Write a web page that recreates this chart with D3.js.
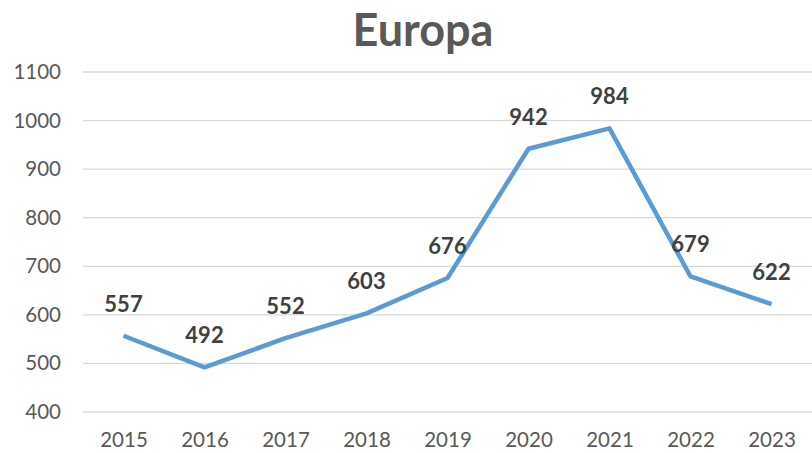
<!DOCTYPE html>
<html>
<head>
<meta charset="utf-8">
<script src="https://cdn.jsdelivr.net/npm/d3@7"></script>
<style>
  body { margin: 0; background: #fff; }
  text { font-family: Lato, "Open Sans", sans-serif; }
</style>
</head>
<body>
<div id="chart"></div>
<script>
var years  = ["2015", "2016", "2017", "2018", "2019", "2020", "2021", "2022", "2023"];
var values = [557, 492, 552, 603, 676, 942, 984, 679, 622];
var yTicks = [400, 500, 600, 700, 800, 900, 1000, 1100];

var width = 812, height = 453;
var margin = {top: 72, right: 0, bottom: 41, left: 83};

var svg = d3.select("#chart").append("svg")
  .attr("width", width)
  .attr("height", height);

var x = d3.scalePoint()
  .domain(years)
  .range([margin.left, width - margin.right])
  .padding(0.5);

var y = d3.scaleLinear()
  .domain([400, 1100])
  .range([height - margin.bottom, margin.top]);

// gridlines
svg.append("g")
  .selectAll("line")
  .data(yTicks)
  .enter().append("line")
  .attr("x1", margin.left)
  .attr("x2", width - margin.right)
  .attr("y1", function(d){ return y(d) })
  .attr("y2", function(d){ return y(d) })
  .attr("stroke", "#d9d9d9")
  .attr("stroke-width", 1.3);

// y axis labels
var yAxis = d3.axisLeft(y).tickValues(yTicks).tickFormat(d3.format("d")).tickSize(0).tickPadding(0);
svg.append("g")
  .attr("transform", "translate(" + 61 + ",0)")
  .call(yAxis)
  .call(function(g){ g.select(".domain").remove() })
  .selectAll("text")
  .attr("font-size", 20.5)
  .attr("fill", "#595959")
  .attr("font-family", "Lato, 'Open Sans', sans-serif");

// x axis labels
var xAxis = d3.axisBottom(x).tickSize(0).tickPadding(0);
svg.append("g")
  .attr("transform", "translate(0," + (height - margin.bottom + 20) + ")")
  .call(xAxis)
  .call(function(g){ g.select(".domain").remove() })
  .selectAll("text")
  .attr("font-size", 20.5)
  .attr("fill", "#595959")
  .attr("font-family", "Lato, 'Open Sans', sans-serif");

// line
var line = d3.line()
  .x(function(d, i){ return x(years[i]) })
  .y(function(d){ return y(d) });

svg.append("path")
  .datum(values)
  .attr("d", line)
  .attr("fill", "none")
  .attr("stroke", "#5b9bd5")
  .attr("stroke-width", 4.5)
  .attr("stroke-linejoin", "round");

// data labels
svg.append("g")
  .selectAll("text")
  .data(values)
  .enter().append("text")
  .attr("x", function(d, i){ return x(years[i]) })
  .attr("y", function(d){ return y(d) - 24 })
  .attr("text-anchor", "middle")
  .attr("font-size", 22)
  .attr("font-weight", "bold")
  .attr("fill", "#404040")
  .text(function(d){ return d });

// title
svg.append("text")
  .attr("x", 423)
  .attr("y", 46)
  .attr("text-anchor", "middle")
  .attr("font-size", 45)
  .attr("font-weight", "bold")
  .attr("fill", "#595959")
  .text("Europa");
</script>
</body>
</html>
